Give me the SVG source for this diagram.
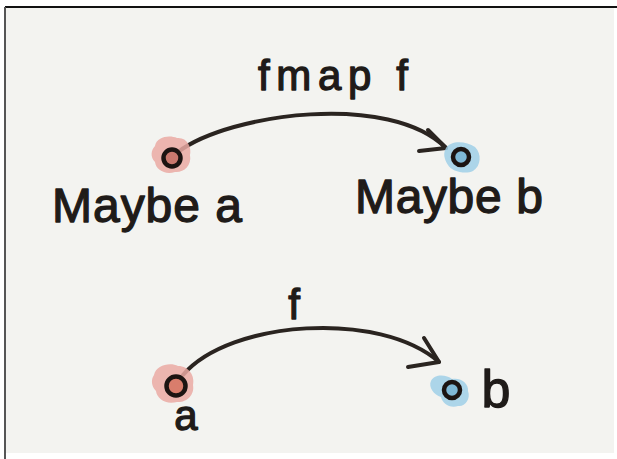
<svg xmlns="http://www.w3.org/2000/svg" width="617" height="459" viewBox="0 0 617 459">
  <style>
    .ink { fill: #1f1b19; stroke: #1f1b19; stroke-width: 1.3; stroke-linejoin: round; font-family: "Liberation Sans", "DejaVu Sans", sans-serif; }
    .ring { fill: none; stroke: #1c1412; stroke-width: 4.5; }
    .red { fill: #eaa9a3; opacity: 0.85; }
    .blue { fill: #9fcfe8; opacity: 0.85; }
    .arc { fill: none; stroke: #2a2420; stroke-width: 4; stroke-linecap: round; stroke-linejoin: round; }
  </style>
  <rect x="0" y="0" width="617" height="459" fill="#ffffff"/>
  <rect x="5" y="7" width="609" height="446" fill="#f3f3f0"/>
  <line x1="5" y1="7" x2="617" y2="7" stroke="#111" stroke-width="2"/>
  <line x1="5" y1="7" x2="5" y2="459" stroke="#555" stroke-width="2"/>

  <g id="connectors">
    <path class="arc" d="M178,152 C230,113 390,92 446,148"/>
    <path class="arc" d="M428,130 L446,148 L419,151"/>
    <text class="ink" x="333" y="90" font-size="42" text-anchor="middle" textLength="150" lengthAdjust="spacing">fmap f</text>
    <path class="arc" d="M183,375 C230,320 380,310 439,362"/>
    <path class="arc" d="M424,338 L439,362 L408,367"/>
    <text class="ink" x="294" y="319" font-size="42" text-anchor="middle">f</text>
  </g>

  <g id="node-maybe-a">
    <path class="red" d="M155,146 C157,136 170,135 177,138 C187,137 192,147 190,155 C192,166 183,173 175,172 C165,175 156,170 155,162 C150,157 151,150 155,146 Z"/>
    <circle cx="172" cy="158" r="8.5" fill="#c9786e"/>
    <circle class="ring" cx="172" cy="158" r="8.5"/>
    <text class="ink" x="52" y="222" font-size="48" textLength="190" lengthAdjust="spacing">Maybe a</text>
  </g>

  <g id="node-maybe-b">
    <path class="blue" d="M446,148 C451,140 466,141 475,147 C482,154 481,166 473,171 C465,175 451,171 448,165 C444,159 443,153 446,148 Z"/>
    <circle cx="461" cy="157" r="8" fill="#7fb8d6"/>
    <circle class="ring" cx="461" cy="157" r="8"/>
    <text class="ink" x="355" y="213" font-size="48" textLength="188" lengthAdjust="spacing">Maybe b</text>
  </g>

  <g id="node-a">
    <path class="red" d="M154,375 C156,365 170,362 178,366 C189,366 195,376 193,385 C195,396 185,403 177,402 C166,405 157,399 156,391 C151,386 151,379 154,375 Z"/>
    <circle cx="176" cy="386" r="9.5" fill="#d97d6c"/>
    <circle class="ring" cx="176" cy="386" r="9.5"/>
    <text class="ink" x="186" y="430" font-size="42" text-anchor="middle">a</text>
  </g>

  <g id="node-b">
    <path class="blue" d="M431,381 C435,373 447,375 452,379 C461,377 469,384 468,391 C471,399 465,407 458,406 C450,409 442,403 441,397 C434,395 428,387 431,381 Z"/>
    <circle cx="452" cy="390" r="8" fill="#7fb8d6"/>
    <circle class="ring" cx="452" cy="390" r="8"/>
    <text class="ink" x="496" y="407" font-size="52" text-anchor="middle">b</text>
  </g>
</svg>
